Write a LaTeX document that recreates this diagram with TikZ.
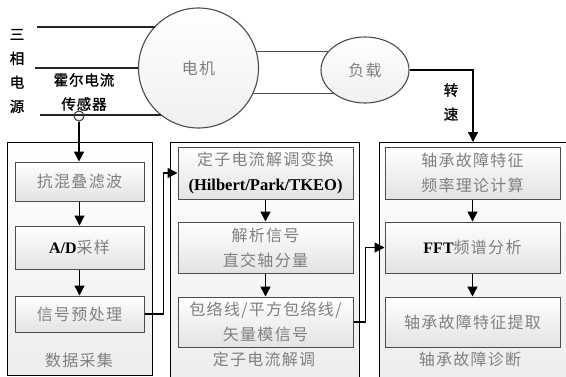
\documentclass[tikz,border=0pt]{standalone}
\usepackage{fontspec}
\setmainfont{Liberation Serif}
\newfontfamily\cjk[LetterSpace=8]{Noto Sans CJK SC}
\newfontfamily\cjkb[FakeBold=1.2,LetterSpace=6]{Noto Sans CJK SC}
\usetikzlibrary{shapes.geometric,arrows.meta}
\begin{document}
\begin{tikzpicture}[x=1pt,y=-1pt,
  grp/.style={draw=black, line width=1pt, top color=white, bottom color=gray!14, inner sep=0pt},
  inbox/.style={draw=black!70, line width=1pt, top color=white, bottom color=gray!22, inner sep=0pt,
     align=center, font=\cjk\fontsize{16}{25}\selectfont, text=black!50},
  glab/.style={font=\cjk\fontsize{16}{20}\selectfont, text=black!50, inner sep=0pt},
  blab/.style={font=\cjkb\fontsize{14.5}{24}\selectfont, text=black, align=center, inner sep=0pt},
  lat/.style={},
  arr/.style={line width=1.3pt, -{Triangle[length=10pt,width=10pt]}},
  pw/.style={line width=1.3pt, draw=black!85},
  lnk/.style={line width=1.1pt, draw=black!70},
  dev/.style={draw=black!70, line width=1.1pt, top color=white, bottom color=gray!12,
     font=\cjk\fontsize{16}{20}\selectfont, text=black!50, inner sep=0pt}]
\useasboundingbox (0,0) rectangle (566,376);

% groups
\node[grp, minimum width=145pt, minimum height=233pt] (lgrp) at (79.5,258.5) {};
\node[grp, minimum width=189pt, minimum height=240pt] (mgrp) at (264.5,262) {};
\node[grp, minimum width=193pt, minimum height=240pt] (rgrp) at (475.5,262) {};

% motor & load
\node[circle, dev, minimum size=120pt] (motor) at (198.5,68) {电机};
\node[ellipse, dev, minimum width=88pt, minimum height=66pt] (load) at (365,70) {负载};
\draw[lnk] (motor.16.5) -- (motor.16.5 -| load.152.2);
\draw[lnk] (motor.-25.7) -- (motor.-25.7 -| load.-141.5);

% power lines
\coordinate (s1) at (37,27);
\coordinate (s2) at (35,68);
\coordinate (s3) at (40,115);
\draw[pw] (s1) -- (s1 -| motor.136.9);
\draw[pw] (s2) -- (motor.west);
\draw[pw] (s3) -- (s3 -| motor.-128.4);
\node[circle, draw=black!80, line width=1pt, minimum size=10pt, inner sep=0pt] (hall) at (79,116) {};

\node[blab] (src) at (17,71) {三\\相\\电\\源};
\node[blab] (hl) at (84,92) {霍尔电流\\传感器};
\node[blab] (spd) at (451,102) {转\\速};

% inner boxes left
\node[inbox, minimum width=129pt, minimum height=39pt] (l1) at (79.5,181.5) {抗混叠滤波};
\node[inbox, minimum width=129pt, minimum height=43pt] (l2) at (79.5,247.5) {{\rmfamily\bfseries\color{black}A/D}采样};
\node[inbox, minimum width=129pt, minimum height=36pt] (l3) at (79.5,314) {信号预处理};
\node[glab] (lgl) at (79,360) {数据采集};

% inner boxes middle
\node[inbox, minimum width=175pt, minimum height=52pt] (m1) at (265.5,173) {定子电流解调变换\\{\rmfamily\bfseries\color{black}\fontsize{16.5}{25}\selectfont(Hilbert/Park/TKEO)}};
\node[inbox, minimum width=175pt, minimum height=51pt] (m2) at (265.5,247.5) {解析信号\\直交轴分量};
\node[inbox, minimum width=175pt, minimum height=50pt] (m3) at (265.5,322) {包络线/平方包络线/\\矢量模信号};
\node[glab] (mgl) at (264,359) {定子电流解调};

% inner boxes right
\node[inbox, minimum width=175pt, minimum height=52pt] (r1) at (472.5,173) {轴承故障特征\\频率理论计算};
\node[inbox, minimum width=175pt, minimum height=51pt] (r2) at (472.5,247.5) {{\rmfamily\bfseries\color{black}FFT}频谱分析};
\node[inbox, minimum width=175pt, minimum height=50pt] (r3) at (472.5,322) {轴承故障特征提取};
\node[glab] (rgl) at (470,359) {轴承故障诊断};

% arrows
\draw[arr] (hall.south) -- (hall.south |- l1.north);
\draw[arr] (l1.south) -- (l2.north);
\draw[arr] (l2.south) -- (l3.north);
\draw[arr] (m1.south) -- (m2.north);
\draw[arr] (m2.south) -- (m3.north);
\draw[arr] (r1.south) -- (r2.north);
\draw[arr] (r2.south) -- (r3.north);
\draw[arr] (l3.east) -- ++(19,0) |- (m1.west);
\draw[arr] (m3.east) -- ++(12,0) |- (r2.west);
\coordinate (sp) at (473,142);
\draw[arr] (load.east) -| (sp);
\end{tikzpicture}
\end{document}
